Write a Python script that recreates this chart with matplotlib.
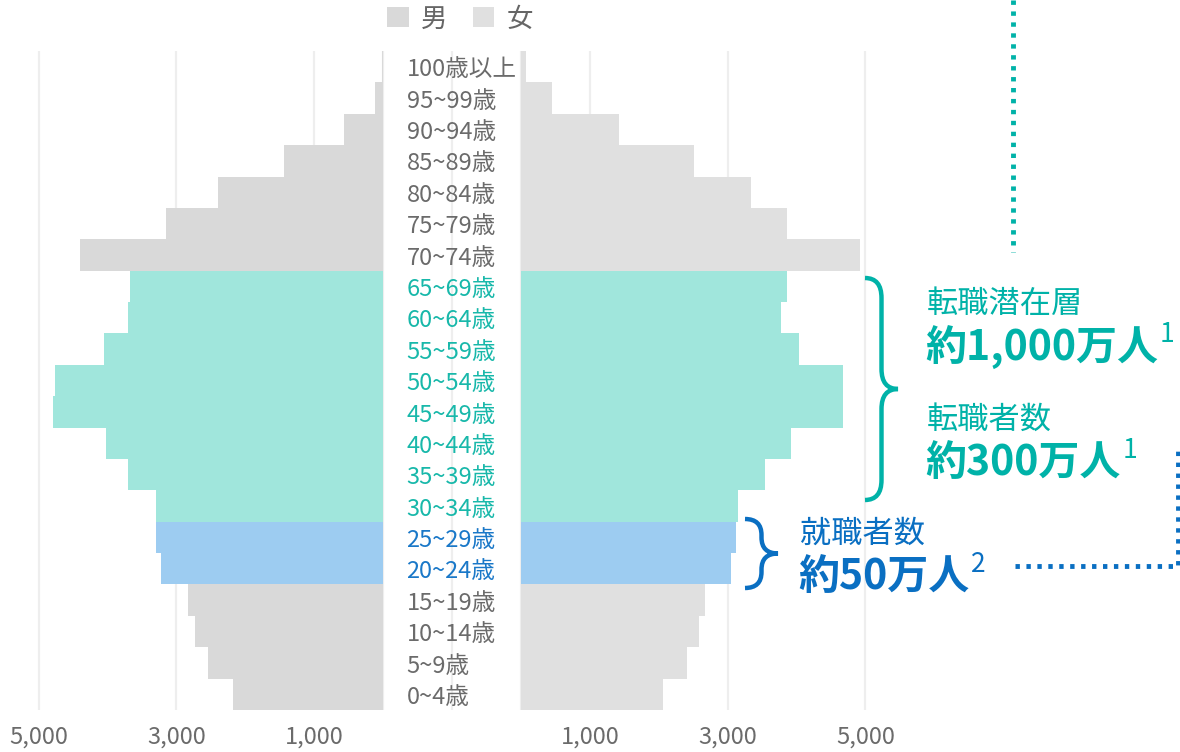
import numpy as np
import matplotlib.pyplot as plt
from matplotlib.path import Path
from matplotlib.patches import PathPatch

plt.rcParams['font.family'] = ['Noto Sans CJK JP', 'DejaVu Sans']

# age groups, bottom to top (thousand people)
ages = ['0~4歳', '5~9歳', '10~14歳', '15~19歳', '20~24歳', '25~29歳', '30~34歳',
        '35~39歳', '40~44歳', '45~49歳', '50~54歳', '55~59歳', '60~64歳', '65~69歳',
        '70~74歳', '75~79歳', '80~84歳', '85~89歳', '90~94歳', '95~99歳', '100歳以上']
male = [2177, 2536, 2726, 2830, 3219, 3290, 3303, 3707, 4029, 4794, 4755,
        4045, 3696, 3668, 4406, 3147, 2393, 1433, 562, 119, 20]
female = [2067, 2410, 2584, 2676, 3048, 3120, 3145, 3541, 3913, 4671, 4671,
          4033, 3768, 3855, 4918, 3864, 3342, 2516, 1425, 449, 72]
# group of each row: 'g' other, 't' job-change range, 'b' new graduates
groups = ['g', 'g', 'g', 'g', 'b', 'b', 't', 't', 't', 't', 't',
          't', 't', 't', 'g', 'g', 'g', 'g', 'g', 'g', 'g']
tick_vals = [1000, 3000, 5000]

GAP = 1000          # half-width of the label column, in data units
PX = 0.0689         # pixels per unit
CX = 452            # pixel position of the centre

bar_m = {'g': '#d9d9d9', 't': '#a0e6dc', 'b': '#9dccf1'}
bar_f = {'g': '#e0e0e0', 't': '#a0e6dc', 'b': '#9dccf1'}
txt_c = {'g': '#6b6b6b', 't': '#18b8aa', 'b': '#1a78c8'}
TEAL = '#00b2a8'
BLUE = '#0a6fc2'

W, H = 1180, 752
fig = plt.figure(figsize=(W / 100, H / 100), dpi=100)
top_px, bot_px = 51, 710
ax = fig.add_axes([0, (H - bot_px) / H, 1, (bot_px - top_px) / H])

y = np.arange(len(ages))
m = np.array(male)
f = np.array(female)
hm = ax.barh(y, -m, left=-GAP, height=1.0, color=[bar_m[g] for g in groups],
             label='男', zorder=2)
hf = ax.barh(y, f, left=GAP, height=1.0, color=[bar_f[g] for g in groups],
             label='女', zorder=2)

for i, lab in enumerate(ages):
    ax.text(-660, i - 0.1, lab, ha='left', va='center', fontsize=17,
            color=txt_c[groups[i]], zorder=3)

ax.set_xlim(-CX / PX, (W - CX) / PX)
ax.set_ylim(-0.5, len(ages) - 0.5)

ticks = [-GAP - v for v in tick_vals] + [-GAP, 0, GAP] + [GAP + v for v in tick_vals]
labels = [f'{v:,}' for v in tick_vals] + ['', '', ''] + [f'{v:,}' for v in tick_vals]
ax.set_xticks(ticks)
ax.set_xticklabels(labels, fontsize=17, color='#6b6b6b')
ax.tick_params(axis='x', length=0, pad=11)
ax.set_yticks([])
ax.grid(axis='x', color='#eeeeee', linewidth=1.6, zorder=0)
ax.set_axisbelow(True)
for s in ax.spines.values():
    s.set_visible(False)

leg = fig.legend(handles=[hm, hf], loc='center', bbox_to_anchor=(460 / W, 1 - 19 / H),
                 ncol=2, frameon=False, fontsize=19, handlelength=0.8, handleheight=0.8,
                 handletextpad=0.45, columnspacing=1.0, labelcolor='#666666')

# overlay in pixel coordinates for the annotations
ov = fig.add_axes([0, 0, 1, 1], facecolor='none')
ov.set_xlim(0, W)
ov.set_ylim(H, 0)
ov.axis('off')


def brace(x0, x1, yt, yb, r, color, lw):
    xm = (x0 + x1) / 2
    ym = (yt + yb) / 2
    verts = [(x0, yt), (xm, yt), (xm, yt + r), (xm, ym - r), (xm, ym), (x1, ym),
             (xm, ym), (xm, ym + r), (xm, yb - r), (xm, yb), (x0, yb)]
    codes = [Path.MOVETO, Path.CURVE3, Path.CURVE3, Path.LINETO, Path.CURVE3, Path.CURVE3,
             Path.CURVE3, Path.CURVE3, Path.LINETO, Path.CURVE3, Path.CURVE3]
    ov.add_patch(PathPatch(Path(verts, codes), fill=False, edgecolor=color,
                           linewidth=lw, capstyle='butt'))


brace(865, 898, 278, 500, 20, TEAL, 3.2)
brace(745, 778, 519, 588, 16, BLUE, 3.2)


def label_pair(x, y1, y2, head, big, sup, color):
    ov.text(x, y1, head, fontsize=22.5, color=color, ha='left', va='center')
    t = ov.text(x - 2, y2, big, fontsize=29.5, fontweight='bold', color=color,
                ha='left', va='center')
    ov.annotate(sup, xy=(1, 0.8), xycoords=t, xytext=(1.5, 0), textcoords='offset points',
                fontsize=19, color=color, ha='left', va='center')


label_pair(927, 304, 348, '転職潜在層', '約1,000万人', '1', TEAL)
label_pair(927, 420, 463, '転職者数', '約300万人', '1', TEAL)
label_pair(800, 534, 577, '就職者数', '約50万人', '2', BLUE)

# dotted connectors
ov.plot([1013, 1013], [0, 252], color=TEAL, linewidth=3.5, linestyle=(0, (0.9, 1.35)))
ov.plot([1015, 1178, 1178], [566, 566, 448], color=BLUE, linewidth=3.5,
        linestyle=(0, (0.9, 1.35)))

fig.savefig('out.png', dpi=100)
